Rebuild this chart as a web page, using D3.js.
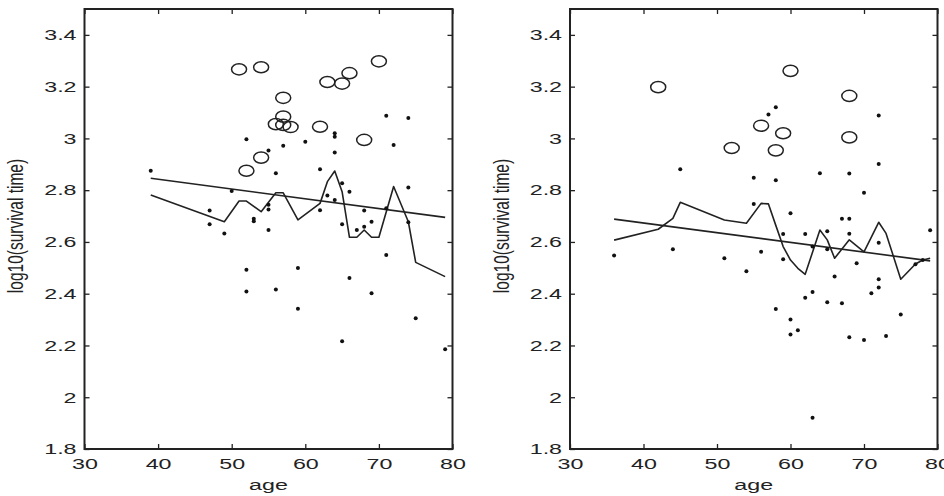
<!DOCTYPE html>
<html>
<head>
<meta charset="utf-8">
<script src="https://cdn.jsdelivr.net/npm/d3@7"></script>
<style>
  body { margin: 0; background: #fff; }
  text { font-family: "Liberation Sans", Arial, sans-serif; fill: #222; }
</style>
</head>
<body>
<svg id="chart" width="944" height="496"></svg>
<script>
// left panel: censored (circles), uncensored (dots), fitted line, smoothed curve
const leftCircleAge = [51, 54, 70, 66, 63, 65, 57, 57, 56, 57, 58, 62, 68, 54, 52];
const leftCircleVal = [3.267, 3.275, 3.298, 3.252, 3.218, 3.212, 3.157, 3.084, 3.055, 3.052, 3.044, 3.045, 2.994, 2.926, 2.875];
const leftDotAge = [39, 52, 55, 57, 60, 64, 64, 64, 71, 74, 72, 56, 62, 50, 65, 66, 74, 63, 64, 55, 55, 47, 62, 68, 71,
  53, 53, 47, 49, 55, 65, 67, 68, 69, 74, 52, 59, 71, 66, 52, 56, 69, 59, 75, 65, 79];
const leftDotVal = [2.875, 2.997, 2.953, 2.972, 2.987, 3.020, 3.006, 2.946, 3.088, 3.079, 2.975, 2.865, 2.881, 2.797, 2.827, 2.794, 2.810, 2.779, 2.762, 2.744, 2.725, 2.721, 2.722, 2.721, 2.730,
  2.690, 2.680, 2.668, 2.633, 2.646, 2.668, 2.646, 2.659, 2.678, 2.676, 2.493, 2.499, 2.550, 2.461, 2.409, 2.416, 2.402, 2.342, 2.305, 2.216, 2.185];
const leftFitAge = [39, 79];
const leftFitVal = [2.846, 2.695];
const leftSmoothAge = [39, 49, 51, 52, 54, 56, 57, 59, 62, 63, 64, 65, 66, 67, 68, 69, 70, 72, 74, 75, 79];
const leftSmoothVal = [2.781, 2.678, 2.758, 2.758, 2.717, 2.790, 2.790, 2.685, 2.749, 2.833, 2.874, 2.794, 2.618, 2.618, 2.646, 2.618, 2.618, 2.814, 2.678, 2.521, 2.466];

// right panel
const rightCircleAge = [42, 60, 68, 56, 59, 68, 52, 58];
const rightCircleVal = [3.198, 3.261, 3.164, 3.049, 3.020, 3.004, 2.963, 2.954];
const rightDotAge = [58, 57, 72, 72, 45, 55, 58, 64, 68, 70, 55, 60, 67, 68, 59, 62, 65, 68, 79, 36, 44, 51, 56, 54, 59,
  63, 65, 72, 69, 66, 72, 72, 71, 63, 62, 65, 67, 58, 60, 75, 61, 60, 68, 70, 73, 63, 77, 78];
const rightDotVal = [3.120, 3.092, 3.089, 2.901, 2.881, 2.848, 2.838, 2.865, 2.864, 2.790, 2.747, 2.711, 2.690, 2.690, 2.631, 2.631, 2.641, 2.632, 2.645, 2.548, 2.572, 2.537, 2.562, 2.487, 2.533,
  2.582, 2.572, 2.597, 2.518, 2.466, 2.456, 2.424, 2.402, 2.407, 2.384, 2.367, 2.363, 2.341, 2.300, 2.320, 2.259, 2.242, 2.232, 2.221, 2.237, 1.921, 2.514, 2.530];
const rightFitAge = [36, 79];
const rightFitVal = [2.688, 2.527];
const rightSmoothAge = [36, 42, 44, 45, 51, 54, 56, 57, 58, 59, 60, 61, 62, 64, 65, 66, 68, 70, 72, 73, 75, 77, 78, 79];
const rightSmoothVal = [2.607, 2.649, 2.691, 2.753, 2.685, 2.672, 2.749, 2.747, 2.664, 2.582, 2.530, 2.498, 2.475, 2.646, 2.608, 2.537, 2.608, 2.562, 2.676, 2.633, 2.456, 2.515, 2.530, 2.537];

const xTicks = [30, 40, 50, 60, 70, 80];
const yTicks = [1.8, 2, 2.2, 2.4, 2.6, 2.8, 3, 3.2, 3.4];
const xLabel = 'age';
const yLabel = 'log10(survival time)';

const zip = (a, b) => a.map((v, i) => [v, b[i]]);
const panels = [
  { x0: 84.5, x1: 452.5, circles: zip(leftCircleAge, leftCircleVal), dots: zip(leftDotAge, leftDotVal),
    fit: zip(leftFitAge, leftFitVal), smooth: zip(leftSmoothAge, leftSmoothVal), yLabX: 15 },
  { x0: 570, x1: 937.5, circles: zip(rightCircleAge, rightCircleVal), dots: zip(rightDotAge, rightDotVal),
    fit: zip(rightFitAge, rightFitVal), smooth: zip(rightSmoothAge, rightSmoothVal), yLabX: 501 }
];

const svg = d3.select('#chart');
const plotTop = 9, plotBottom = 449;
const sx = 1.55; // horizontal stretch of the text
const ink = '#222';

panels.forEach((p) => {
  const x = d3.scaleLinear().domain([30, 80]).range([p.x0, p.x1]);
  const y = d3.scaleLinear().domain([1.8, 3.5]).range([plotBottom, plotTop]);
  const g = svg.append('g');

  // inward ticks on all four sides
  const fmt = (d) => String(+d.toFixed(1));
  const bx = g.append('g').attr('transform', `translate(0,${plotBottom})`)
    .call(d3.axisBottom(x).tickValues(xTicks).tickSize(-5).tickPadding(9).tickFormat(fmt));
  const lx = g.append('g').attr('transform', `translate(${p.x0},0)`)
    .call(d3.axisLeft(y).tickValues(yTicks).tickSize(-5).tickPadding(8).tickFormat(fmt));
  g.append('g').attr('transform', `translate(0,${plotTop})`)
    .call(d3.axisTop(x).tickValues(xTicks).tickSize(-5).tickFormat(''));
  g.append('g').attr('transform', `translate(${p.x1},0)`)
    .call(d3.axisRight(y).tickValues(yTicks).tickSize(-5).tickFormat(''));
  g.selectAll('.domain').remove();
  g.selectAll('.tick line').attr('stroke', ink).attr('stroke-width', 1.3);

  bx.selectAll('text').attr('font-size', 15).attr('fill', ink).attr('dy', '0.72em')
    .attr('transform', `scale(${sx},1)`);
  lx.selectAll('text').attr('font-size', 15).attr('fill', ink)
    .attr('x', -8 / sx).attr('transform', `scale(${sx},1)`);

  g.append('rect').attr('x', p.x0).attr('y', plotTop).attr('width', p.x1 - p.x0).attr('height', plotBottom - plotTop)
    .attr('fill', 'none').attr('stroke', ink).attr('stroke-width', 2);

  g.append('text').attr('text-anchor', 'middle').attr('font-size', 15)
    .attr('transform', `translate(${(p.x0 + p.x1) / 2},${490}) scale(${sx},1)`).text(xLabel);
  g.append('text').attr('text-anchor', 'middle').attr('font-size', 15.5)
    .attr('transform', `translate(${p.yLabX},${226}) scale(1.4,1) rotate(-90)`).attr('dy', '0.35em').text(yLabel);

  const line = d3.line().x((d) => x(d[0])).y((d) => y(d[1]));
  g.append('path').attr('d', line(p.fit)).attr('fill', 'none').attr('stroke', ink).attr('stroke-width', 1.6);
  g.append('path').attr('d', line(p.smooth)).attr('fill', 'none').attr('stroke', ink).attr('stroke-width', 1.6)
    .attr('stroke-linejoin', 'round');

  g.selectAll('.dot').data(p.dots).join('circle').attr('class', 'dot')
    .attr('cx', (d) => x(d[0])).attr('cy', (d) => y(d[1])).attr('r', 2).attr('fill', '#111');
  g.selectAll('.cens').data(p.circles).join('ellipse').attr('class', 'cens')
    .attr('cx', (d) => x(d[0])).attr('cy', (d) => y(d[1])).attr('rx', 7.5).attr('ry', 5.6)
    .attr('fill', 'none').attr('stroke', ink).attr('stroke-width', 1.5);
});
</script>
</body>
</html>
